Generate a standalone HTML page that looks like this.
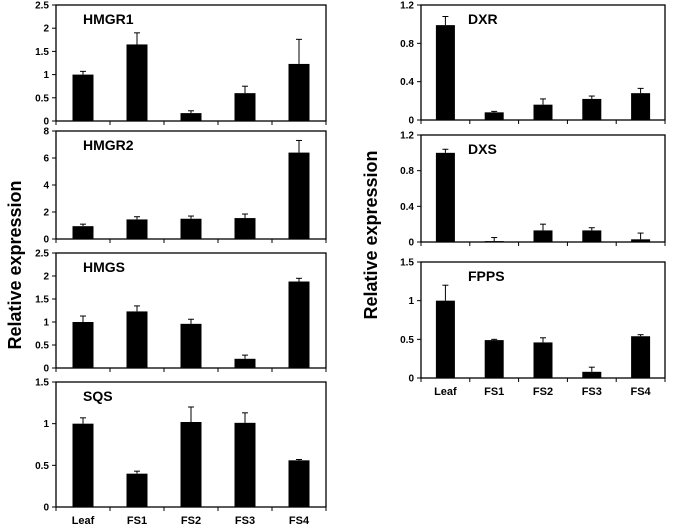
<!DOCTYPE html>
<html><head><meta charset="utf-8"><style>
body{margin:0;background:#fff;}
svg{display:block;font-family:"Liberation Sans",Arial,sans-serif;}
</style></head><body>
<svg id="c" width="675" height="530"></svg>
<script>
const categories=["Leaf","FS1","FS2","FS3","FS4"];
const hmgr1Vals=[1.0,1.65,0.17,0.6,1.23];
const hmgr1Err=[0.07,0.25,0.05,0.15,0.53];
const hmgr2Vals=[0.95,1.45,1.5,1.55,6.4];
const hmgr2Err=[0.15,0.2,0.2,0.3,0.9];
const hmgsVals=[1.0,1.23,0.96,0.2,1.88];
const hmgsErr=[0.13,0.12,0.1,0.08,0.07];
const sqsVals=[1.0,0.4,1.02,1.01,0.56];
const sqsErr=[0.07,0.03,0.18,0.12,0.01];
const dxrVals=[0.99,0.08,0.16,0.22,0.28];
const dxrErr=[0.09,0.01,0.06,0.03,0.05];
const dxsVals=[1.0,0.01,0.13,0.13,0.03];
const dxsErr=[0.04,0.04,0.07,0.03,0.07];
const fppsVals=[1.0,0.49,0.46,0.08,0.54];
const fppsErr=[0.2,0.01,0.06,0.06,0.02];
const ticks25=["0","0.5","1","1.5","2","2.5"];
const ticks8=["0","2","4","6","8"];
const ticks15=["0","0.5","1","1.5"];
const ticks12=["0","0.4","0.8","1.2"];

const svg=document.getElementById('c');
const NS='http://www.w3.org/2000/svg';
function mk(t,a,p){const e=document.createElementNS(NS,t);for(const k in a)e.setAttribute(k,a[k]);(p||svg).appendChild(e);return e;}

function panel(name,title,vals,errs,ticks,x0,x1,y0,y1,barW,showCats,titleOff){
  const g=mk('g',{});
  
  
  const tmax=parseFloat(ticks[ticks.length-1]);
  const ys=v=>y1-(v/tmax)*(y1-y0);
  const cw=(x1-x0)/categories.length;
  const xs=i=>x0+cw*(i+0.5);
  const fr=mk('rect',{x:x0,y:y0,width:x1-x0,height:y1-y0,fill:'none',stroke:'#000','stroke-width':1.3},g);
  
  
  ticks.forEach(t=>{const v=parseFloat(t);const y=ys(v);
    mk('line',{x1:x0-4,x2:x0,y1:y,y2:y,stroke:'#000','stroke-width':1},g);
    const tx=mk('text',{x:x0-7,y:y+3.5,'text-anchor':'end','font-size':10,'font-weight':'bold'},g);
    tx.textContent=t;
    
    
  });
  for(let i=0;i<=categories.length;i++){const x=x0+cw*i;mk('line',{x1:x,x2:x,y1:y1,y2:y1+4,stroke:'#000','stroke-width':1},g);}
  vals.forEach((v,i)=>{
    const cx=xs(i);
    const b=mk('rect',{x:cx-barW/2,y:ys(v),width:barW,height:y1-ys(v),fill:'#000'},g);
    
    
    const ye=ys(v+errs[i]);
    mk('line',{x1:cx,x2:cx,y1:ys(v),y2:ye,stroke:'#000','stroke-width':1},g);
    mk('line',{x1:cx-3,x2:cx+3,y1:ye,y2:ye,stroke:'#000','stroke-width':1},g);
    if(showCats){const t=mk('text',{x:cx,y:y1+17,'text-anchor':'middle','font-size':11,'font-weight':'bold'},g);
      t.textContent=categories[i];
      
      }
  });
  const tt=mk('text',{x:x0+titleOff,y:y0+19,'font-size':14,'font-weight':'bold'},g);
  tt.textContent=title;
  
  
}
panel('hmgr1','HMGR1',hmgr1Vals,hmgr1Err,ticks25,56,326,5,121,21,false,27);
panel('hmgr2','HMGR2',hmgr2Vals,hmgr2Err,ticks8,56,326,131,239,21,false,27);
panel('hmgs','HMGS',hmgsVals,hmgsErr,ticks25,56,326,253,368,21,false,27);
panel('sqs','SQS',sqsVals,sqsErr,ticks15,56,326,382,507,21,true,27);
panel('dxr','DXR',dxrVals,dxrErr,ticks12,421,665,5,120,19,false,47);
panel('dxs','DXS',dxsVals,dxsErr,ticks12,421,665,135,242,19,false,47);
panel('fpps','FPPS',fppsVals,fppsErr,ticks15,421,665,262,378,19,true,47);

const l1=mk('text',{x:0,y:0,transform:'translate(21,265) rotate(-90)','text-anchor':'middle','font-size':18,'font-weight':'bold'});
l1.textContent='Relative expression';


const l2=mk('text',{x:0,y:0,transform:'translate(377,235) rotate(-90)','text-anchor':'middle','font-size':18,'font-weight':'bold'});
l2.textContent='Relative expression';


</script>
</body></html>
